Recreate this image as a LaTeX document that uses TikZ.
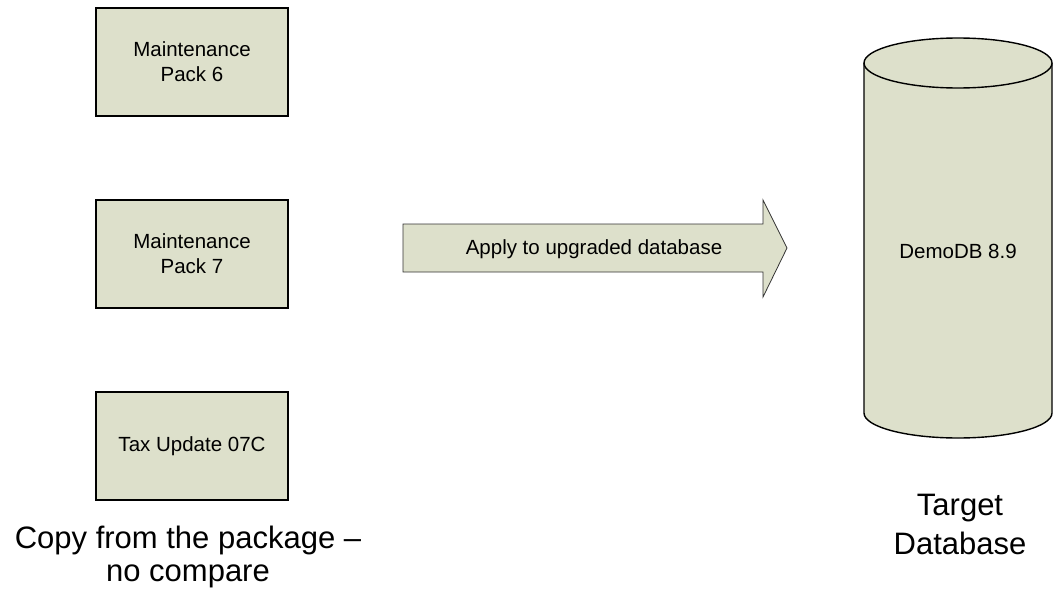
\documentclass[tikz,border=0pt]{standalone}
\usepackage{fontspec}
\setmainfont{Liberation Sans}
\definecolor{boxfill}{RGB}{221,224,203}
\begin{document}
\begin{tikzpicture}[x=1pt,y=-1pt,
  pack/.style={draw=black,line width=1.4pt,fill=boxfill,minimum width=192pt,minimum height=108pt,inner sep=0pt,align=center,font=\fontsize{20.5}{25}\selectfont},
  small/.style={font=\fontsize{20.5}{25}\selectfont,align=center,inner sep=0pt},
  big/.style={align=center,inner sep=0pt}]
\useasboundingbox (0,0) rectangle (1054,594);
\node[pack] (mp6) at (192,62) {Maintenance\\Pack 6};
\node[pack] (mp7) at (192,254) {Maintenance\\Pack 7};
\node[pack] (tax) at (192,446) {Tax Update 07C};
% arrow
\draw[fill=boxfill,draw=black!80,line width=0.8pt]
  (403,224) -- (763,224) -- (763,200) -- (787,248) -- (763,297) -- (763,272) -- (403,272) -- cycle;
\node[small] (apply) at (594,249) {Apply to upgraded database};
% cylinder
\draw[fill=boxfill,draw=black,line width=1.4pt]
  (864,63) -- (864,413) arc[start angle=180,end angle=360,x radius=94,y radius=-25] -- (1052,63);
\draw[fill=boxfill,draw=black,line width=1.4pt] (958,63) ellipse[x radius=94,y radius=25];
\node[small] (demo) at (958,251) {DemoDB 8.9};
\node[big,font=\fontsize{31}{33}\selectfont] (copy) at (188,557) {Copy from the package --\\no compare};
\node[big,font=\fontsize{31}{39}\selectfont] (target) at (960,524) {Target\\Database};
\end{tikzpicture}
\end{document}
